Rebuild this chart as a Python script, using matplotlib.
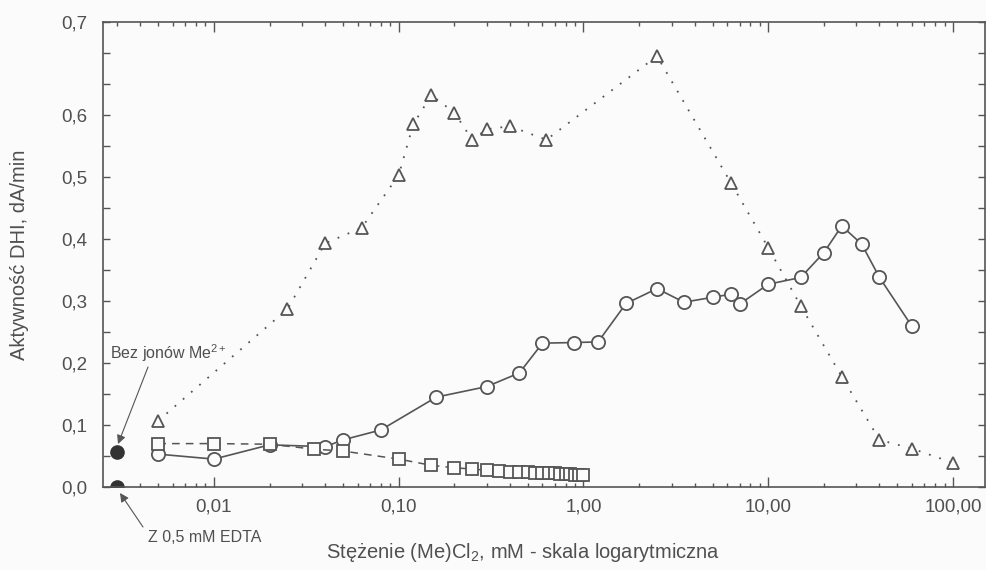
import matplotlib
matplotlib.use("Agg")
import matplotlib.pyplot as plt
from matplotlib.ticker import FixedLocator, LogLocator, NullFormatter

plt.rcParams["font.family"] = ["Liberation Sans", "DejaVu Sans"]
plt.rcParams["mathtext.fontset"] = "custom"
plt.rcParams["mathtext.rm"] = "Liberation Sans"
plt.rcParams["mathtext.it"] = "Liberation Sans"

# stezenie (mM) i aktywnosc (dA/min)
conc_tri = [0.005, 0.025, 0.04, 0.063, 0.10, 0.12, 0.15, 0.20, 0.25, 0.30, 0.40, 0.63,
            2.5, 6.3, 10, 15, 25, 40, 60, 100]
act_tri = [0.107, 0.287, 0.393, 0.418, 0.503, 0.585, 0.632, 0.604, 0.560, 0.577, 0.582, 0.560,
           0.695, 0.490, 0.386, 0.292, 0.178, 0.076, 0.062, 0.039]

conc_circ = [0.005, 0.01, 0.02, 0.04, 0.05, 0.08, 0.16, 0.30, 0.45, 0.60, 0.89, 1.2, 1.7,
             2.5, 3.5, 5.0, 6.3, 7.0, 10, 15, 20, 25, 32, 40, 60]
act_circ = [0.053, 0.045, 0.068, 0.065, 0.076, 0.092, 0.145, 0.162, 0.184, 0.232, 0.233, 0.234, 0.296,
            0.320, 0.298, 0.306, 0.311, 0.295, 0.327, 0.338, 0.378, 0.421, 0.392, 0.338, 0.259]

conc_sq = [0.005, 0.01, 0.02, 0.035, 0.05, 0.10, 0.15, 0.20, 0.25, 0.30, 0.35, 0.40, 0.45,
           0.50, 0.55, 0.60, 0.65, 0.70, 0.75, 0.80, 0.85, 0.90, 0.95, 1.0]
act_sq = [0.070, 0.070, 0.069, 0.061, 0.058, 0.045, 0.035, 0.031, 0.029, 0.027, 0.026, 0.025, 0.024,
          0.024, 0.023, 0.023, 0.022, 0.022, 0.021, 0.021, 0.021, 0.020, 0.020, 0.020]

# kontrole: bez jonow Me2+ oraz z 0,5 mM EDTA
conc_ctrl = [0.003, 0.003]
act_ctrl = [0.056, 0.0]

xticks = [0.01, 0.1, 1, 10, 100]
xtick_labels = ["0,01", "0,10", "1,00", "10,00", "100,00"]
yticks = [0.0, 0.1, 0.2, 0.3, 0.4, 0.5, 0.6, 0.75]
ytick_labels = ["0,0", "0,1", "0,2", "0,3", "0,4", "0,5", "0,6", "0,7"]

grey = "#555555"
txt = "#505050"
bg = "#fbfbfb"

fig = plt.figure(figsize=(9.87, 5.70), dpi=100, facecolor=bg)
W, H = 987, 570
ax = fig.add_axes([103 / W, 1 - 487 / H, (985 - 103) / W, (487 - 22) / H], facecolor=bg)

ax.plot(conc_circ, act_circ, color=grey, lw=1.2, marker="o", ms=9.5,
        mfc=bg, mec=grey, mew=1.3)
ax.plot(conc_sq, act_sq, color=grey, lw=1.1, ls=(0, (5, 4)), marker="s", ms=9,
        mfc=bg, mec=grey, mew=1.3)
ax.plot(conc_tri, act_tri, color=grey, lw=1.3, ls=(0, (1, 5)), marker="^", ms=8.5,
        mfc=bg, mec=grey, mew=1.3)
ax.plot(conc_ctrl, act_ctrl, ls="none", marker="o", ms=9.5, color="#333333")

ax.set_xscale("log")
ax.set_xlim(0.00251, 149)
ax.set_ylim(0, 0.75)

ax.xaxis.set_major_locator(FixedLocator(xticks))
ax.set_xticklabels(xtick_labels)
ax.xaxis.set_minor_locator(LogLocator(base=10, subs=range(2, 10), numticks=20))
ax.xaxis.set_minor_formatter(NullFormatter())
ax.set_yticks(yticks)
ax.set_yticklabels(ytick_labels)
ax.yaxis.set_minor_locator(FixedLocator([0.05, 0.15, 0.25, 0.35, 0.45, 0.55, 0.65, 0.7]))

ax.tick_params(which="both", direction="in", top=True, right=True, colors=grey,
               labelcolor=txt, labelsize=13.5, width=1)
ax.tick_params(axis="x", which="major", length=7, pad=8)
ax.tick_params(axis="x", which="minor", length=3)
ax.tick_params(axis="y", which="both", length=5, pad=11)
for s in ax.spines.values():
    s.set_color(grey)
    s.set_linewidth(1.2)

fig.text(20 / W, 1 - 255 / H, "Aktywność DHI, dA/min", rotation=90, ha="center",
         va="center", fontsize=14.5, color=txt)
fig.text(523 / W, 1 - 552 / H, "Stężenie (Me)Cl$_2$, mM - skala logarytmiczna",
         ha="center", va="center", fontsize=14.5, color=txt)

fig.text(110 / W, 1 - 353 / H, "Bez jonów Me$^{2+}$", ha="left", va="center",
         fontsize=11.5, color=txt)
fig.text(148 / W, 1 - 537 / H, "Z 0,5 mM EDTA", ha="left", va="center",
         fontsize=11.5, color=txt)

arrow = dict(arrowstyle="-|>", color=grey, lw=0.8, mutation_scale=13, shrinkA=0, shrinkB=0)
ax.annotate("", xy=(118, 570 - 444), xycoords="figure pixels",
            xytext=(148, 570 - 367), textcoords="figure pixels", arrowprops=arrow,
            annotation_clip=False)
ax.annotate("", xy=(120, 570 - 493), xycoords="figure pixels",
            xytext=(143, 570 - 527), textcoords="figure pixels", arrowprops=arrow,
            annotation_clip=False)

fig.savefig("out.png", dpi=100, facecolor=bg)
